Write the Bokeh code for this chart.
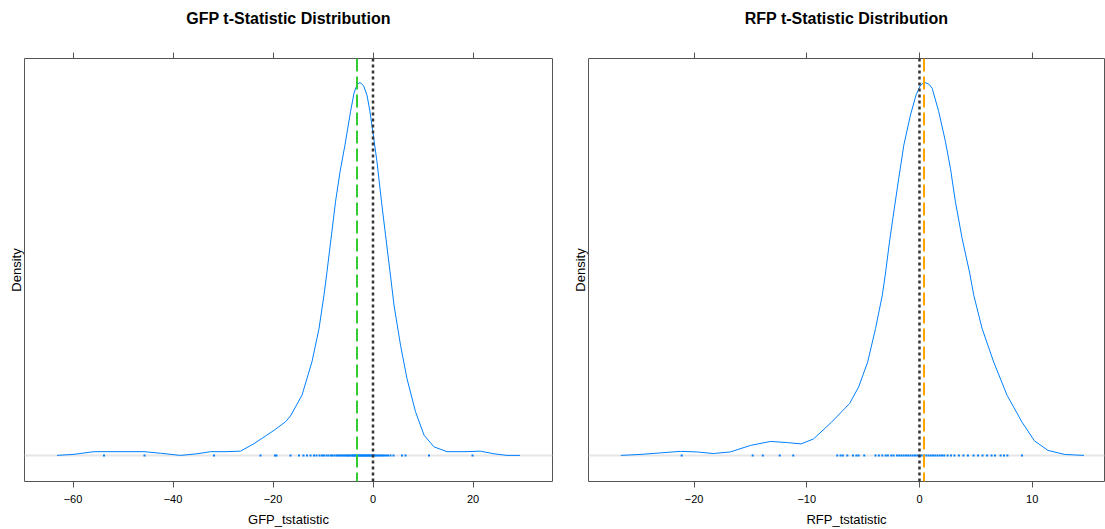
from bokeh.plotting import figure
from bokeh.layouts import row
from bokeh.models import (Span, FixedTicker, LinearAxis, Title, Range1d,
                          CustomLabelingPolicy)
from bokeh.embed import file_html
from bokeh.resources import INLINE

# ---------------- data ----------------
gfp_x = [-63.2, -59.8, -55.8, -51.2, -45.8, -42.5, -38.5, -35.2, -32.5, -29.2,
         -26.5, -23.8, -19.8, -17.5, -16.5, -14.2, -12.2, -10.8, -9.8, -9.2,
         -8.3, -7.5, -6.6, -5.6, -4.5, -3.8, -3.2, -2.6, -1.9, -1.2,
         -0.6, 0.0, 0.8, 1.7, 2.5, 3.4, 4.2, 5.5, 6.8, 8.5,
         10.2, 12.2, 14.8, 18.8, 21.5, 24.2, 26.8, 29.4]
gfp_density = [0.0000, 0.0002, 0.0007, 0.0007, 0.0007, 0.0004, 0.0000, 0.0003, 0.0007, 0.0007,
               0.0008, 0.0022, 0.0047, 0.0063, 0.0074, 0.0113, 0.0176, 0.0238, 0.0301, 0.0345,
               0.0414, 0.0476, 0.0532, 0.0583, 0.0645, 0.0680, 0.0696, 0.0700, 0.0694, 0.0676,
               0.0645, 0.0605, 0.0551, 0.0476, 0.0414, 0.0345, 0.0282, 0.0207, 0.0144, 0.0082,
               0.0038, 0.0016, 0.0007, 0.0007, 0.0008, 0.0003, 0.0000, 0.0000]
gfp_rug = [-53.8, -45.7, -31.8, -22.5, -19.6, -19.3, -16.5, -14.8, -13.9, -13.2,
           -12.5, -11.8, -11.3, -10.7, -10.2, -9.8, -9.3, -8.9, -8.4, -8.1,
           -7.7, -7.3, -7.0, -6.7, -6.4, -6.1, -5.8, -5.5, -5.2, -5.0,
           -4.7, -4.5, -4.2, -4.0, -3.8, -3.6, -3.4, -3.2, -3.0, -2.8,
           -2.6, -2.4, -2.2, -2.0, -1.8, -1.6, -1.4, -1.2, -1.0, -0.8,
           -0.6, -0.4, -0.2, 0.0, 0.2, 0.4, 0.7, 1.0, 1.3, 1.6,
           1.9, 2.2, 2.6, 3.0, 3.5, 4.1, 5.8, 6.5, 11.2, 19.9]
gfp_mean = -3.2

rfp_x = [-26.5, -24.8, -23.0, -21.2, -19.7, -18.3, -16.8, -15.0, -13.2, -11.7,
         -10.5, -9.4, -7.8, -6.2, -5.4, -4.6, -3.9, -3.3, -3.0, -2.66,
         -2.28, -1.84, -1.39, -0.8, -0.3, 0.1, 0.47, 0.85, 1.13, 1.71,
         2.31, 2.75, 3.19, 3.79, 4.44, 4.82, 5.56, 6.59, 7.78, 9.1,
         10.2, 11.4, 12.9, 14.6]
rfp_density = [0.0000, 0.0003, 0.0008, 0.0013, 0.0011, 0.0006, 0.0011, 0.0032, 0.0045, 0.0041,
               0.0037, 0.0053, 0.0107, 0.0167, 0.0220, 0.0300, 0.0408, 0.0515, 0.0590, 0.0687,
               0.0783, 0.0891, 0.0998, 0.1095, 0.1160, 0.1192, 0.1200, 0.1194, 0.1181, 0.1106,
               0.1009, 0.0923, 0.0816, 0.0697, 0.0590, 0.0515, 0.0408, 0.0300, 0.0193, 0.0107,
               0.0047, 0.0016, 0.0003, 0.0000]
rfp_rug = [-21.1, -14.8, -13.9, -12.4, -11.2, -7.3, -7.0, -6.8, -6.4, -5.9,
           -5.6, -5.4, -4.9, -3.9, -3.6, -3.3, -3.0, -2.8, -2.5, -2.3,
           -2.0, -1.8, -1.6, -1.4, -1.2, -1.0, -0.8, -0.6, -0.4, -0.2,
           0.0, 0.2, 0.4, 0.6, 0.8, 1.0, 1.2, 1.4, 1.6, 1.8,
           2.0, 2.2, 2.5, 2.8, 3.1, 3.5, 3.9, 4.3, 4.8, 5.2,
           5.6, 6.0, 6.4, 6.7, 7.2, 7.5, 7.8, 9.1]
rfp_mean = 0.4

gfp_ticks = [-60, -40, -20, 0, 20]
rfp_ticks = [-20, -10, 0, 10]

FONT = "Liberation Sans"
CURVE = "#0080ff"
FRAME = "#555555"
FRAME_H = 423
SHIFT = 18   # extra top border that is pulled back above the window edge


def panel(title, xlabel, xs, dens, rug, mean, mean_color, ticks, xr, yr,
          fw, left_b, right_b):
    p = figure(frame_width=fw, frame_height=FRAME_H,
               x_range=Range1d(*xr), y_range=Range1d(*yr),
               output_backend="svg", toolbar_location=None,
               y_axis_location=None,
               min_border_left=left_b, min_border_right=right_b,
               min_border_top=57 + SHIFT, min_border_bottom=49)
    p.grid.visible = False
    p.outline_line_color = FRAME
    p.outline_line_width = 1
    p.background_fill_color = "white"
    p.border_fill_color = "white"

    p.title.text = title
    p.title.align = "center"
    p.title.text_font = FONT
    p.title.text_font_size = "16px"
    p.title.text_font_style = "bold"
    p.title.text_color = "black"
    p.title.standoff = 51

    ax = p.xaxis[0]
    ax.ticker = FixedTicker(ticks=ticks)
    ax.axis_line_color = None
    ax.major_tick_out = 6
    ax.major_tick_in = 0
    ax.minor_tick_line_color = None
    ax.major_tick_line_color = FRAME
    ax.major_label_text_font = FONT
    ax.major_label_text_font_size = "11px"
    ax.major_label_text_color = "black"
    ax.major_label_standoff = 7
    ax.axis_label = xlabel
    ax.axis_label_text_font = FONT
    ax.axis_label_text_font_size = "13px"
    ax.axis_label_text_font_style = "normal"
    ax.axis_label_text_color = "black"
    ax.axis_label_standoff = 6

    top = LinearAxis(ticker=FixedTicker(ticks=ticks), axis_line_color=None,
                     major_tick_out=6, major_tick_in=0,
                     minor_tick_line_color=None, major_tick_line_color=FRAME,
                     major_label_standoff=0, major_label_text_font_size="0px",
                     axis_label_standoff=0,
                     major_label_policy=CustomLabelingPolicy(code="return []"))
    p.add_layout(top, "above")

    p.add_layout(Title(text="Density", align="center", text_font=FONT,
                       text_font_size="13px", text_font_style="normal",
                       text_color="black", standoff=2), "left")

    p.add_layout(Span(location=0, dimension="width", line_color="#E6E6E6",
                      line_width=2, level="underlay"))
    p.line(xs, dens, line_color=CURVE, line_width=1)
    p.scatter(rug, [0] * len(rug), marker="square", size=2,
              fill_color=CURVE, line_color=None)
    p.add_layout(Span(location=mean, dimension="height", line_color=mean_color,
                      line_width=2, line_dash="13 5"))
    p.add_layout(Span(location=0, dimension="height", line_color="#333333",
                      line_width=2.5, line_dash="3 3"))
    return p


p1 = panel("GFP t-Statistic Distribution", "GFP_tstatistic", gfp_x, gfp_density,
           gfp_rug, gfp_mean, "#32CD32", gfp_ticks, (-69.7, 35.9),
           (-0.0049, 0.0745), 528, 24, 3)
p2 = panel("RFP t-Statistic Distribution", "RFP_tstatistic", rfp_x, rfp_density,
           rfp_rug, rfp_mean, "#FFA500", rfp_ticks, (-29.37, 16.42),
           (-0.0084, 0.1277), 516, 33, 1)

layout = row(p1, p2, spacing=0, margin=(-SHIFT, 0, 0, 0))
open("out.html", "w").write(file_html(layout, INLINE))
